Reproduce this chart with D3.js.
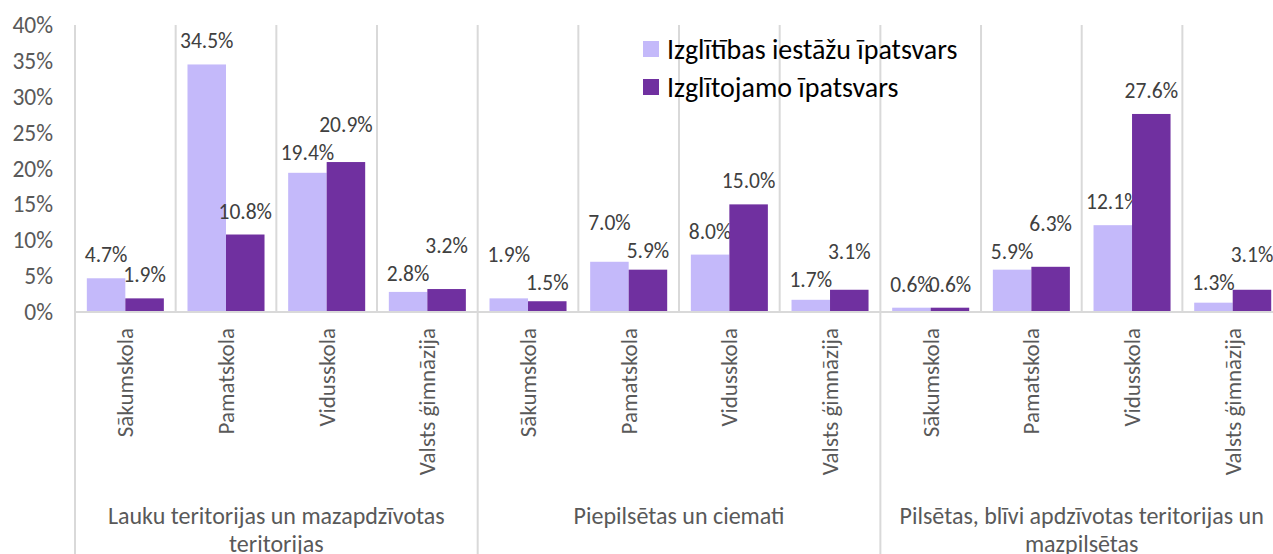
<!DOCTYPE html>
<html>
<head>
<meta charset="utf-8">
<script src="https://cdnjs.cloudflare.com/ajax/libs/d3/7.8.5/d3.min.js"></script>
<style>
  body { margin: 0; background: #ffffff; overflow: hidden; }
  svg { display: block; font-family: Carlito, Calibri, Lato, sans-serif; }
</style>
</head>
<body>
<svg id="chart" width="1273" height="554"></svg>
<script>
let groups = [
	['Lauku teritorijas un mazapdzīvotas', 'teritorijas'],
	['Piepilsētas un ciemati'],
	['Pilsētas, blīvi apdzīvotas teritorijas un', 'mazpilsētas']
];
let schoolTypes = ['Sākumskola', 'Pamatskola', 'Vidusskola', 'Valsts ģimnāzija'];
let seriesNames = ['Izglītības iestāžu īpatsvars', 'Izglītojamo īpatsvars'];
let institutionShare = [4.7, 34.5, 19.4, 2.8, 1.9, 7.0, 8.0, 1.7, 0.6, 5.9, 12.1, 1.3];
let studentShare = [1.9, 10.8, 20.9, 3.2, 1.5, 5.9, 15.0, 3.1, 0.6, 6.3, 27.6, 3.1];
let yTicks = [0, 5, 10, 15, 20, 25, 30, 35, 40];

let colors = ['#c4b9fa', '#7030a0'];
let gridColor = '#d9d9d9';

let svg = d3.select('#chart');
let plotLeft = 75, plotTop = 25, plotBottom = 312;
let catWidth = 100.67;

// one slot per school type in every group
let cats = [];
groups.forEach(function (g, gi) {
	schoolTypes.forEach(function (s, si) {
		cats.push({'id': gi + '_' + si, 'group': gi, 'name': s, 'index': cats.length});
	});
});

let x = d3.scaleBand()
	.domain(cats.map(function (d) { return d['id']; }))
	.range([plotLeft, plotLeft + catWidth * cats.length])
	.paddingInner(0)
	.paddingOuter(0);

let xSeries = d3.scaleBand()
	.domain([0, 1])
	.range([0, x.bandwidth()])
	.paddingInner(0)
	.paddingOuter(0.307);

let y = d3.scaleLinear()
	.domain([0, 40])
	.range([plotBottom, plotTop]);

// vertical separators inside the plot
svg.append('g').selectAll('line')
	.data(cats)
	.enter().append('line')
	.attr('x1', function (d) { return x(d['id']); })
	.attr('x2', function (d) { return x(d['id']); })
	.attr('y1', plotTop)
	.attr('y2', function (d) { return (d['index'] % 4 == 0) ? 554 : plotBottom; })
	.attr('stroke', gridColor)
	.attr('stroke-width', 2);

// y axis labels
let yAxis = svg.append('g')
	.attr('transform', 'translate(' + (plotLeft - 22) + ',0)')
	.call(d3.axisLeft(y).tickValues(yTicks).tickSize(0).tickPadding(0)
		.tickFormat(function (d) { return d + '%'; }));
yAxis.select('.domain').remove();
yAxis.selectAll('text')
	.attr('font-size', 23.5)
	.attr('font-family', 'Carlito, Calibri, Lato, sans-serif')
	.attr('fill', '#595959');

// label positions: just above the bar, pushed apart when the pair would collide
let labelY = [[], []];
cats.forEach(function (c, i) {
	let a = y(institutionShare[i]) - 16, b = y(studentShare[i]) - 16;
	let gap = Math.abs(a - b);
	if (gap < 20 && institutionShare[i] != studentShare[i]) {
		let need = 28 - gap;
		if (institutionShare[i] > studentShare[i]) {
			a -= need * 0.8; b += need * 0.2;
		} else {
			b -= need * 0.8; a += need * 0.2;
		}
	}
	labelY[0].push(a);
	labelY[1].push(b);
});

// bars
let seriesData = [institutionShare, studentShare];
seriesData.forEach(function (values, si) {
	let rows = cats.map(function (c, i) { return {'id': c['id'], 'value': values[i], 'ly': labelY[si][i]}; });
	let g = svg.append('g');
	g.selectAll('rect')
		.data(rows)
		.enter().append('rect')
		.attr('x', function (d) { return x(d['id']) + xSeries(si); })
		.attr('y', function (d) { return y(d['value']); })
		.attr('width', xSeries.bandwidth())
		.attr('height', function (d) { return plotBottom - y(d['value']); })
		.attr('fill', colors[si]);

	g.selectAll('text')
		.data(rows)
		.enter().append('text')
		.text(function (d) { return d['value'].toFixed(1) + '%'; })
		.attr('x', function (d) { return x(d['id']) + xSeries(si) + xSeries.bandwidth() / 2; })
		.attr('y', function (d) { return d['ly']; })
		.attr('text-anchor', 'middle')
		.attr('font-size', 21.5)
		.attr('fill', '#404040');
});

// category axis line
svg.append('line')
	.attr('x1', plotLeft)
	.attr('x2', plotLeft + catWidth * cats.length)
	.attr('y1', plotBottom)
	.attr('y2', plotBottom)
	.attr('stroke', gridColor)
	.attr('stroke-width', 2);

// rotated school type labels
svg.append('g').selectAll('text')
	.data(cats)
	.enter().append('text')
	.text(function (d) { return d['name']; })
	.attr('transform', function (d) {
		return 'translate(' + (x(d['id']) + x.bandwidth() / 2 + 8) + ',328) rotate(-90)';
	})
	.attr('text-anchor', 'end')
	.attr('font-size', 23)
	.attr('fill', '#595959');

// group labels
groups.forEach(function (lines, gi) {
	let cx = x(gi + '_0') + x.bandwidth() * 2;
	let t = svg.append('text')
		.attr('text-anchor', 'middle')
		.attr('font-size', 24)
		.attr('fill', '#595959');
	lines.forEach(function (line, li) {
		t.append('tspan')
			.text(line)
			.attr('x', cx)
			.attr('y', 524 + li * 28);
	});
});

// legend
seriesNames.forEach(function (name, si) {
	let ly = 41 + si * 38;
	svg.append('rect')
		.attr('x', 643)
		.attr('y', ly)
		.attr('width', 16)
		.attr('height', 16)
		.attr('fill', colors[si]);
	svg.append('text')
		.text(name)
		.attr('x', 667)
		.attr('y', ly + 18)
		.attr('font-size', 28)
		.attr('fill', '#000000');
});
</script>
</body>
</html>
